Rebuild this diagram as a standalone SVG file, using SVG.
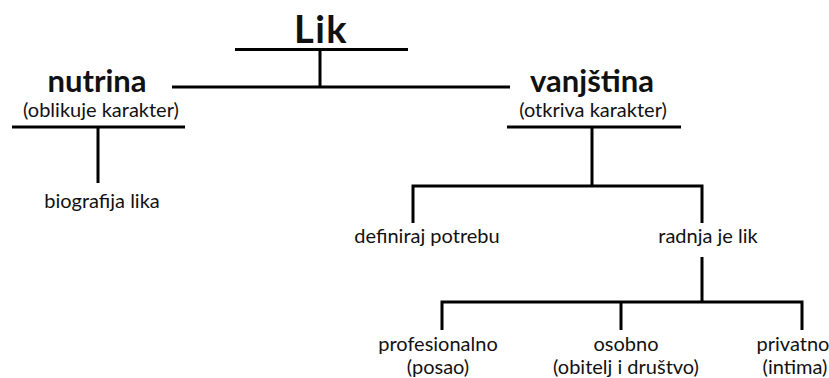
<svg xmlns="http://www.w3.org/2000/svg" width="829" height="378" viewBox="0 0 829 378">
<style>
.t{font-family:Lato,"Open Sans","Liberation Sans",sans-serif;fill:#111;text-anchor:middle;font-size:20px}
.b{font-weight:bold;font-size:31px}
.c line,.c path{stroke:#000;stroke-width:3;fill:none}
</style>
<rect width="829" height="378" fill="#fff"/>
<g class="c" id="connectors">
<line x1="235" y1="49.5" x2="408" y2="49.5"/>
<line x1="320" y1="49.5" x2="320" y2="87"/>
<line x1="172" y1="87" x2="510" y2="87"/>
<line x1="12" y1="127" x2="185" y2="127"/>
<line x1="98" y1="127" x2="98" y2="183"/>
<line x1="507" y1="127" x2="681" y2="127"/>
<line x1="592" y1="127" x2="592" y2="186"/>
<path d="M413 223V186H702V223"/>
<line x1="702" y1="257" x2="702" y2="302"/>
<path d="M442 330V302H802V330M621 302V330"/>
</g>
<g id="lik"><text class="t b" x="321" y="43" style="font-size:38px;letter-spacing:1.5px">Lik</text></g>
<g id="nutrina"><text class="t b" x="97" y="92">nutrina</text><text class="t" x="101" y="117">(oblikuje karakter)</text></g>
<g id="vanjstina"><text class="t b" x="592" y="92">vanjština</text><text class="t" x="593" y="117">(otkriva karakter)</text></g>
<g id="biografija"><text class="t" x="102" y="208">biografija lika</text></g>
<g id="definiraj"><text class="t" x="427" y="243">definiraj potrebu</text></g>
<g id="radnja"><text class="t" x="708" y="243">radnja je lik</text></g>
<g id="profesionalno"><text class="t" x="438" y="351">profesionalno</text><text class="t" x="438" y="374">(posao)</text></g>
<g id="osobno"><text class="t" x="626" y="351">osobno</text><text class="t" x="626" y="374">(obitelj i društvo)</text></g>
<g id="privatno"><text class="t" x="793" y="351">privatno</text><text class="t" x="795" y="374">(intima)</text></g>
</svg>
